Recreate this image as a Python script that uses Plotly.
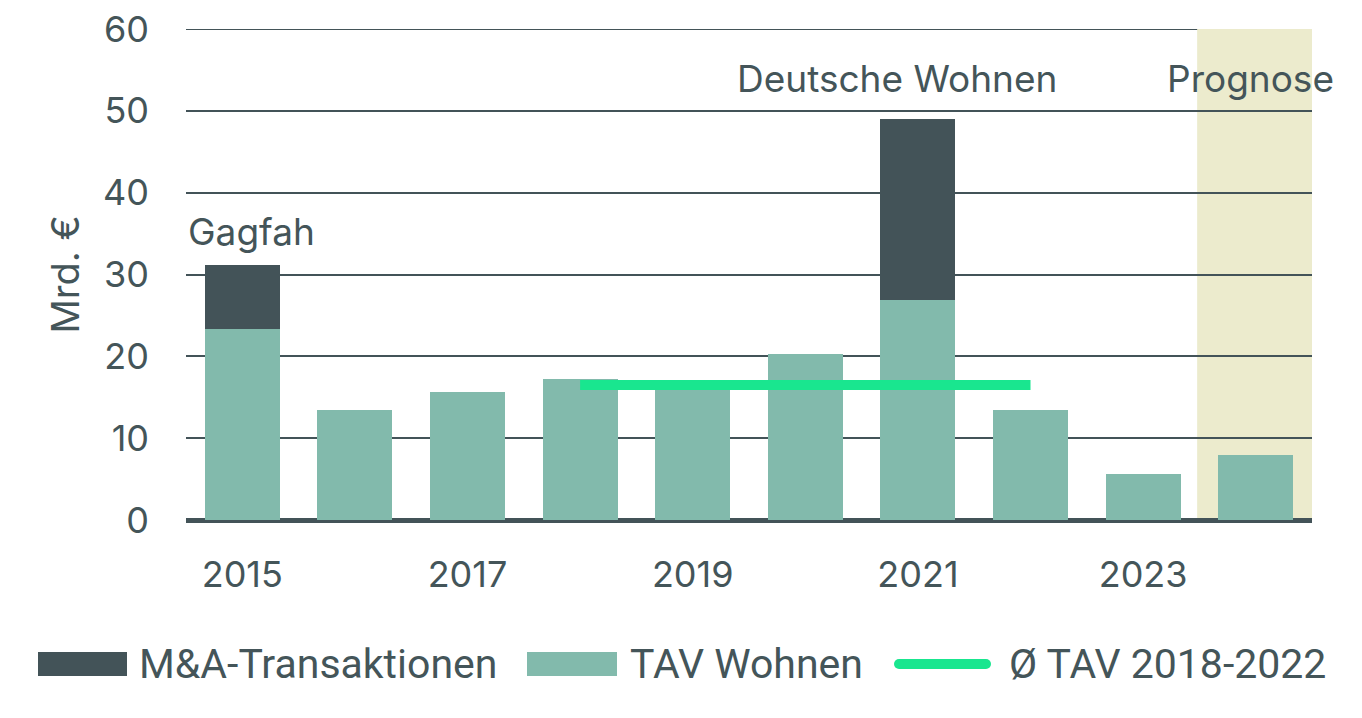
import plotly.graph_objects as go

years = ["2015", "2016", "2017", "2018", "2019", "2020", "2021", "2022", "2023", "2024"]
tav_wohnen = [23.3, 13.5, 15.6, 17.2, 16.4, 20.3, 26.9, 13.5, 5.6, 8.0]
ma_transaktionen = [7.9, None, None, None, None, None, 22.1, None, None, None]
avg_years = ["2018", "2022"]
avg_values = [16.5, 16.5]
tick_years = ["2015", "2017", "2019", "2021", "2023"]
y_ticks = [0, 10, 20, 30, 40, 50, 60]

DARK = "#435358"
TEAL = "#82BAAC"
GREEN = "#19E68F"
BEIGE = "#ECEBCD"
TXT = "#445559"
FONT = "Inter"
LFONT = "Roboto"

fig = go.Figure()
fig.add_trace(go.Bar(x=years, y=tav_wohnen, name="TAV Wohnen", marker_color=TEAL,
                     marker_line_width=0, showlegend=False))
fig.add_trace(go.Bar(x=years, y=ma_transaktionen, name="M&A-Transaktionen", marker_color=DARK,
                     marker_line_width=0, showlegend=False))
fig.add_trace(go.Scatter(x=avg_years, y=avg_values, mode="lines", name="Ø TAV 2018-2022",
                         line=dict(color=GREEN, width=10), showlegend=False))

fig.update_layout(
    width=1362, height=718,
    margin=dict(l=186, r=50, t=29, b=198, autoexpand=False),
    barmode="stack", bargap=0.333,
    plot_bgcolor="white", paper_bgcolor="white",
    font=dict(family=FONT, color=TXT, size=36),
    xaxis=dict(type="category", categoryorder="array", categoryarray=years,
               range=[-0.5, 9.5], tickvals=tick_years, ticktext=tick_years,
               showgrid=False, showline=False, ticks="", ticklabelstandoff=30,
               automargin=False,
               tickfont=dict(family=FONT, size=36, color=TXT)),
    yaxis=dict(range=[0, 60], tickvals=y_ticks, showgrid=True, gridcolor=DARK, gridwidth=2,
               zeroline=True, zerolinecolor=DARK, zerolinewidth=5, showline=False,
               ticks="", ticklabelstandoff=36, automargin=False,
               tickfont=dict(family=FONT, size=36, color=TXT)),
)

# Prognose shading
fig.add_shape(type="rect", xref="x", yref="y", x0=8.48, x1=9.52, y0=0, y1=60,
              fillcolor=BEIGE, line_width=0, layer="below")
# top gridline at 60 (edge of range)
fig.add_shape(type="line", xref="x domain", yref="y", x0=0, x1=1, y0=60, y1=60,
              line=dict(color=DARK, width=2), layer="below")

# Annotations
fig.add_annotation(x=0.0, y=35.3, xref="paper", yref="y", text="Gagfah", showarrow=False,
                   xanchor="left", yanchor="middle", font=dict(family=FONT, size=37, color=TXT))
fig.add_annotation(x=5.81, y=54.0, xref="x", yref="y", text="Deutsche Wohnen", showarrow=False,
                   xanchor="center", yanchor="middle", font=dict(family=FONT, size=37, color=TXT))
fig.add_annotation(x=8.95, y=54.0, xref="x", yref="y", text="Prognose", showarrow=False,
                   xanchor="center", yanchor="middle", font=dict(family=FONT, size=37, color=TXT))
fig.add_annotation(x=-0.1075, y=0.5, xref="paper", yref="paper", text="Mrd. €", showarrow=False,
                   textangle=-90, xanchor="center", yanchor="middle",
                   font=dict(family=FONT, size=38, color=TXT))

# Custom legend
def px_x(p):
    return (p - 186) / 1126

def px_y(p):
    return (520 - p) / 491

ly = px_y(664)
fig.add_shape(type="rect", xref="paper", yref="paper", x0=px_x(38), x1=px_x(127),
              y0=px_y(676), y1=px_y(652), fillcolor=DARK, line_width=0)
fig.add_annotation(x=px_x(137), y=ly, xref="paper", yref="paper", text="M&A-Transaktionen",
                   showarrow=False, xanchor="left", yanchor="middle",
                   font=dict(family=LFONT, size=41, color=TXT))
fig.add_shape(type="rect", xref="paper", yref="paper", x0=px_x(527), x1=px_x(617),
              y0=px_y(676), y1=px_y(652), fillcolor=TEAL, line_width=0)
fig.add_annotation(x=px_x(628), y=ly, xref="paper", yref="paper", text="TAV Wohnen",
                   showarrow=False, xanchor="left", yanchor="middle",
                   font=dict(family=LFONT, size=41, color=TXT))
fig.add_shape(type="line", xref="paper", yref="paper", x0=px_x(899), x1=px_x(986),
              y0=ly, y1=ly, line=dict(color=GREEN, width=10))
for cx in (899, 986):
    fig.add_shape(type="circle", xref="paper", yref="paper", x0=px_x(cx - 5), x1=px_x(cx + 5),
                  y0=px_y(669), y1=px_y(659), fillcolor=GREEN, line_width=0)
fig.add_annotation(x=px_x(1007), y=ly, xref="paper", yref="paper", text="Ø TAV 2018-2022",
                   showarrow=False, xanchor="left", yanchor="middle",
                   font=dict(family=LFONT, size=41, color=TXT))

fig.write_html("out.html")
